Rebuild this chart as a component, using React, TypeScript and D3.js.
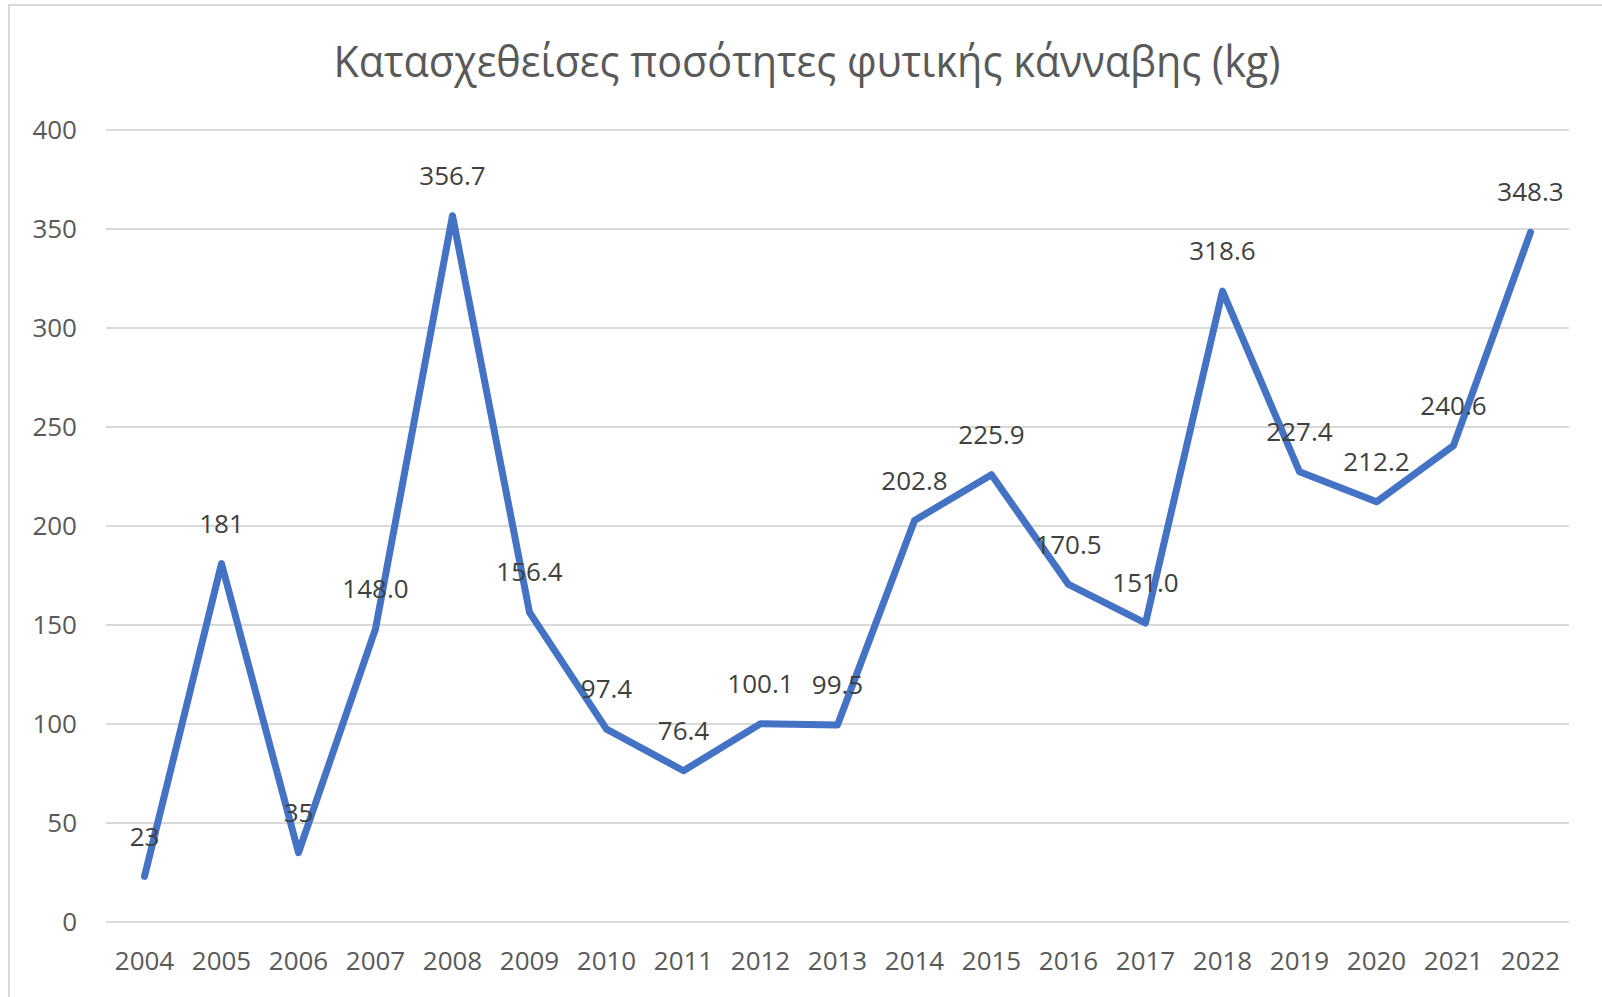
import { scaleLinear, scalePoint, line, curveLinear } from "d3";

const years = [
  "2004", "2005", "2006", "2007", "2008", "2009", "2010", "2011", "2012", "2013",
  "2014", "2015", "2016", "2017", "2018", "2019", "2020", "2021", "2022",
];
const values = [
  23, 181, 35, 148.0, 356.7, 156.4, 97.4, 76.4, 100.1, 99.5,
  202.8, 225.9, 170.5, 151.0, 318.6, 227.4, 212.2, 240.6, 348.3,
];
const valueLabels = [
  "23", "181", "35", "148.0", "356.7", "156.4", "97.4", "76.4", "100.1", "99.5",
  "202.8", "225.9", "170.5", "151.0", "318.6", "227.4", "212.2", "240.6", "348.3",
];
const yTicks = [0, 50, 100, 150, 200, 250, 300, 350, 400];

const title = "Κατασχεθείσες ποσότητες φυτικής κάνναβης (kg)";

const width = 1602;
const height = 997;
const plot = { left: 106, right: 1569, top: 130, bottom: 922 };
const textColor = "#595959";
const gridColor = "#d9d9d9";
const lineColor = "#4472c4";
const font = '"Open Sans", "Noto Sans", sans-serif';

export default function App() {
  const x = scalePoint<string>()
    .domain(years)
    .range([plot.left, plot.right])
    .padding(0.5);
  const y = scaleLinear().domain([0, 400]).range([plot.bottom, plot.top]);

  const path = line<number>()
    .x((_, i) => x(years[i]) as number)
    .y((d) => y(d))
    .curve(curveLinear)(values);

  return (
    <div style={{ position: "absolute", left: 0, top: 0 }}>
      <svg width={width} height={height} fontFamily={font}>
        <rect width={width} height={height} fill="white" />
        <rect
          x={9}
          y={5}
          width={width + 20}
          height={height + 20}
          fill="none"
          stroke={gridColor}
          strokeWidth={2}
        />
        {/* title: font is wider than the original's, so squeeze to its width */}
        <text
          x={807}
          y={77}
          textAnchor="middle"
          fontSize={44}
          textLength={947}
          lengthAdjust="spacingAndGlyphs"
          fill={textColor}
        >
          {title}
        </text>
        {yTicks.map((t) => (
          <g key={t}>
            <line
              x1={plot.left}
              x2={plot.right}
              y1={y(t)}
              y2={y(t)}
              stroke={gridColor}
              strokeWidth={2}
            />
            <text
              x={77}
              y={y(t)}
              dy="0.35em"
              textAnchor="end"
              fontSize={26}
              fill={textColor}
            >
              {t}
            </text>
          </g>
        ))}
        {years.map((yr) => (
          <text
            key={yr}
            x={x(yr)}
            y={970}
            textAnchor="middle"
            fontSize={26}
            fill={textColor}
          >
            {yr}
          </text>
        ))}
        <path
          d={path ?? ""}
          fill="none"
          stroke={lineColor}
          strokeWidth={7}
          strokeLinejoin="round"
          strokeLinecap="round"
        />
        {values.map((v, i) => (
          <text
            key={years[i]}
            x={x(years[i])}
            y={y(v) - 40}
            dy="0.35em"
            textAnchor="middle"
            fontSize={26}
            fill="#404040"
          >
            {valueLabels[i]}
          </text>
        ))}
      </svg>
    </div>
  );
}
